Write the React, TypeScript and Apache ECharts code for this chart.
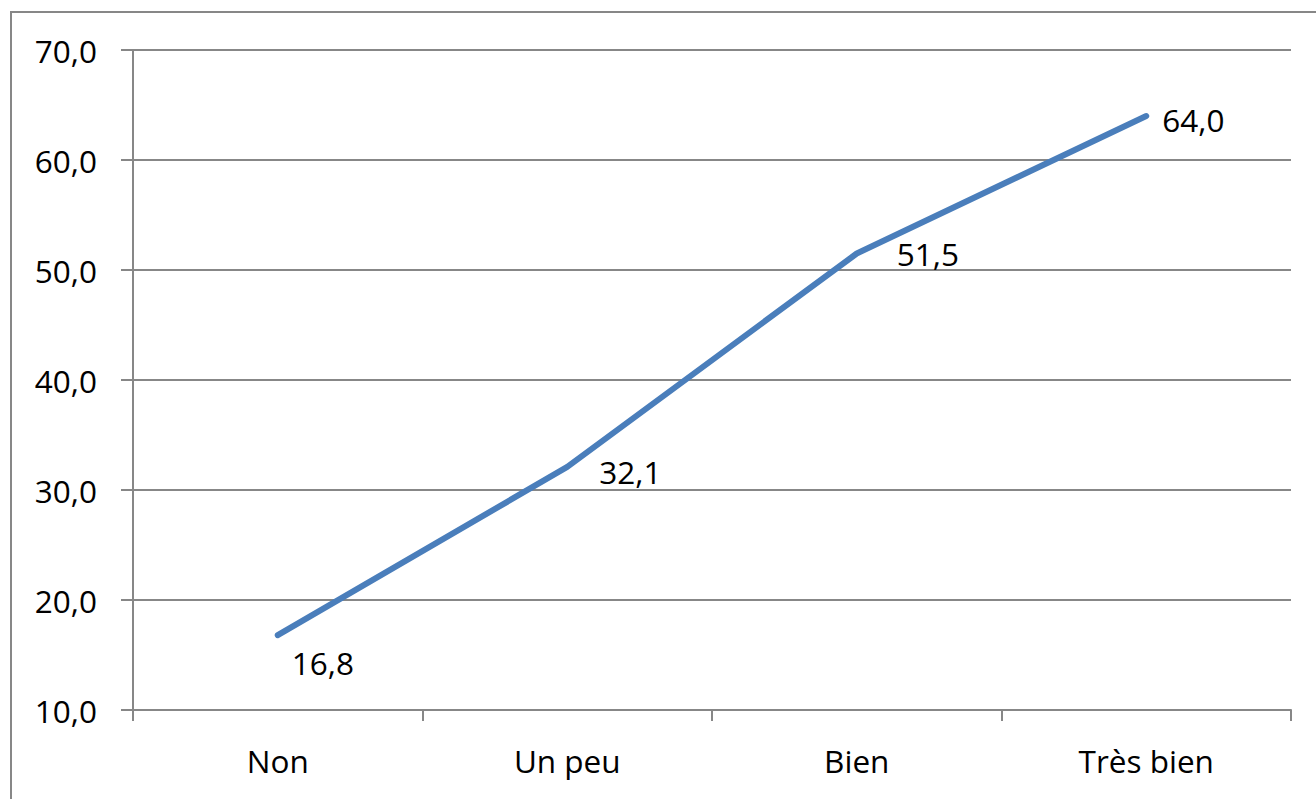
import React, { useEffect, useRef } from "react";
import * as echarts from "echarts";

const categories = ["Non", "Un peu", "Bien", "Très bien"];
const values = [16.8, 32.1, 51.5, 64.0];
const yMin = 10;
const yMax = 70;
const yStep = 10;

// label styling per point (distance to the right, vertical offset)
const labelDistance = [13, 31, 39, 15];
const labelDy = [27, 5, 0, 3];

const FONT = "'Open Sans', 'Noto Sans', sans-serif";
const GRAY = "#878787";

const fmt = (v: number) => v.toFixed(1).replace(".", ",");

export default function App() {
  const ref = useRef<HTMLDivElement>(null);
  useEffect(() => {
    if (!ref.current) return;
    const chart = echarts.init(ref.current, undefined, { renderer: "svg" });
    chart.setOption({
      animation: false,
      backgroundColor: "#ffffff",
      grid: { left: 133, top: 50, right: 25, bottom: 89, containLabel: false },
      graphic: [
        {
          type: "rect",
          shape: { x: 11, y: 12, width: 1330, height: 820 },
          style: { fill: "none", stroke: GRAY, lineWidth: 2 },
          silent: true,
        },
      ],
      xAxis: {
        type: "category",
        data: categories,
        boundaryGap: true,
        axisLine: { show: true, lineStyle: { color: GRAY, width: 2 } },
        axisTick: { show: true, length: 11, lineStyle: { color: GRAY, width: 2 }, alignWithLabel: false },
        axisLabel: { color: "#000", fontFamily: FONT, fontSize: 31.5, margin: 34 },
        splitLine: { show: false },
      },
      yAxis: {
        type: "value",
        min: yMin,
        max: yMax,
        interval: yStep,
        axisLine: { show: true, lineStyle: { color: GRAY, width: 2 } },
        axisTick: { show: true, length: 12, lineStyle: { color: GRAY, width: 2 } },
        axisLabel: {
          color: "#000",
          fontFamily: FONT,
          fontSize: 31.5,
          margin: 36,
          formatter: (v: number) => fmt(v),
        },
        splitLine: { show: true, lineStyle: { color: GRAY, width: 2 } },
      },
      series: [
        {
          type: "line",
          data: values.map((v, i) => ({
            value: v,
            label: {
              show: true,
              position: "right",
              distance: labelDistance[i],
              offset: [0, labelDy[i]],
            },
          })),
          symbol: "circle",
          symbolSize: 2,
          itemStyle: { color: "#4a7ebb" },
          lineStyle: { color: "#4a7ebb", width: 6, cap: "round", join: "round" },
          label: {
            show: true,
            color: "#000",
            fontFamily: FONT,
            fontSize: 31.5,
            formatter: (p: any) => fmt(p.value),
          },
        },
      ],
    });
    return () => chart.dispose();
  }, []);
  return (
    <div
      ref={ref}
      style={{ position: "fixed", left: 0, top: 0, width: 1316, height: 799 }}
    />
  );
}
